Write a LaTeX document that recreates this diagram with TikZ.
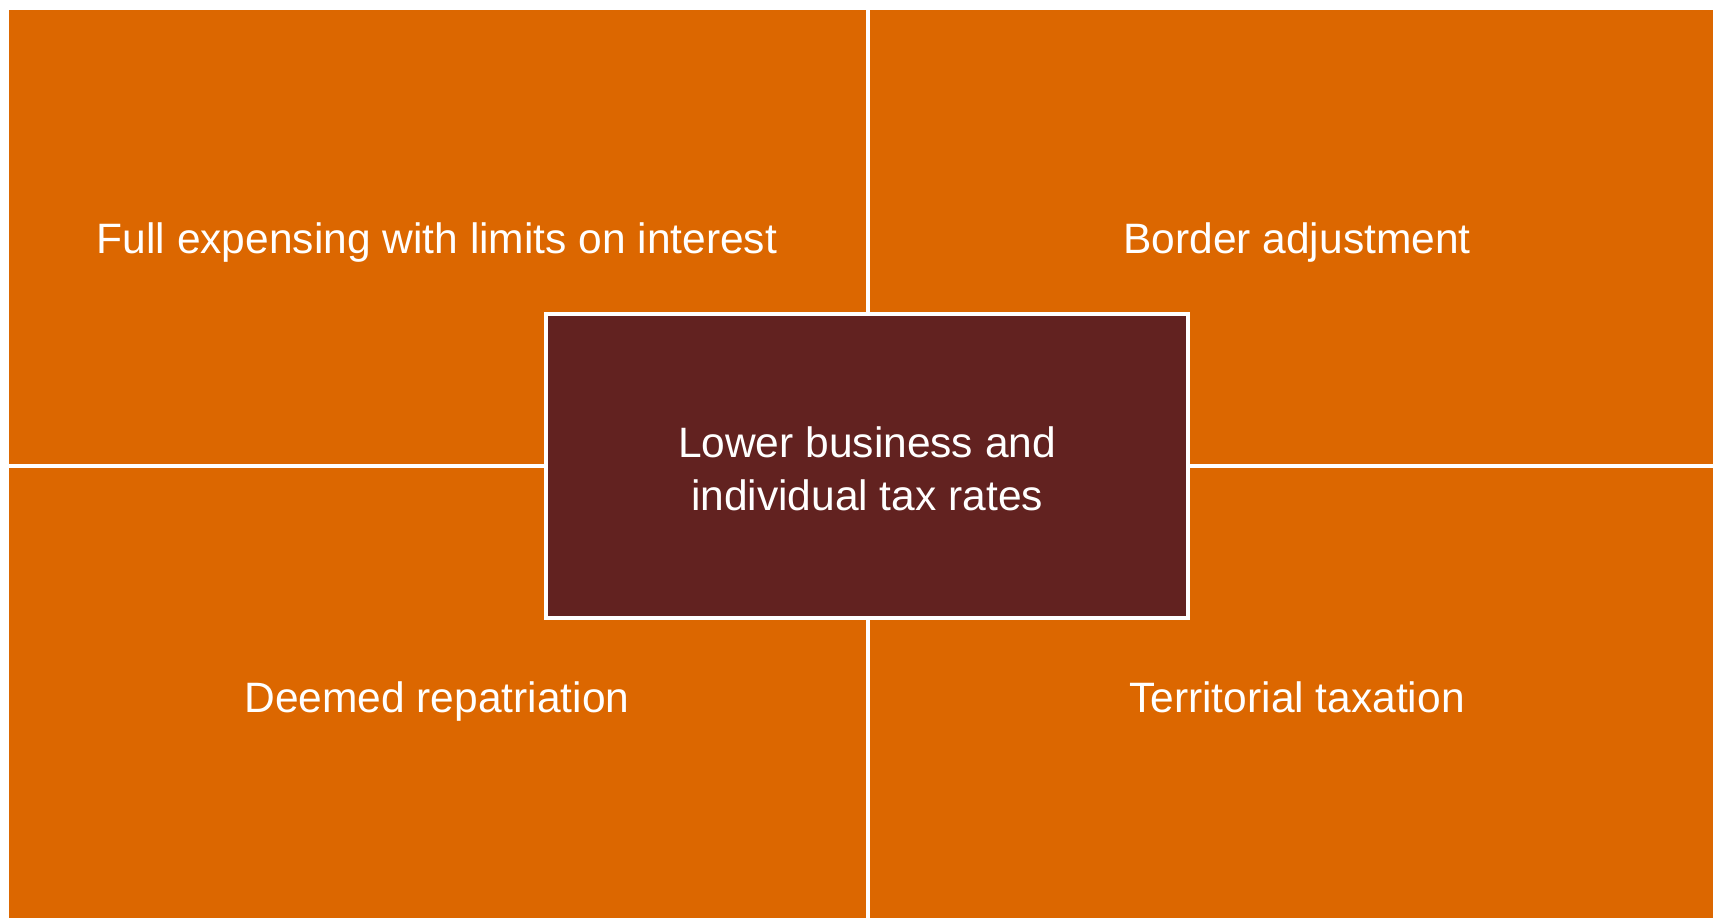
\documentclass[tikz,border=0pt]{standalone}
\usepackage{fontspec}
\setmainfont{Liberation Sans}
\definecolor{quadorange}{RGB}{220,103,0}
\definecolor{coremaroon}{RGB}{98,34,32}
\begin{document}
\begin{tikzpicture}[x=1pt,y=-1pt,
  label/.style={text=white,font=\fontsize{42.5}{53}\selectfont,inner sep=0pt,anchor=base},
  divider/.style={draw=white,line width=4pt}]
\useasboundingbox (0,0) rectangle (1713,918);
% orange field split into four quadrants
\fill[quadorange] (9,10) rectangle (1713,918);
\draw[divider] (868,10) -- (868,918);
\draw[divider] (9,465.5) -- (1713,465.5);
% central box
\node[draw=white,line width=4pt,fill=coremaroon,minimum width=642pt,minimum height=304pt,inner sep=0pt]
  (core) at (867,466) {};
% quadrant labels
\node[label] (q1) at (437,253) {Full expensing with limits on interest};
\node[label] (q2) at (1297,253) {Border adjustment};
\node[label] (q3) at (437,712) {Deemed repatriation};
\node[label] (q4) at (1297,712) {Territorial taxation};
\node[label] (c1) at (867,457) {Lower business and};
\node[label] (c2) at (867,510) {individual tax rates};
\end{tikzpicture}
\end{document}
